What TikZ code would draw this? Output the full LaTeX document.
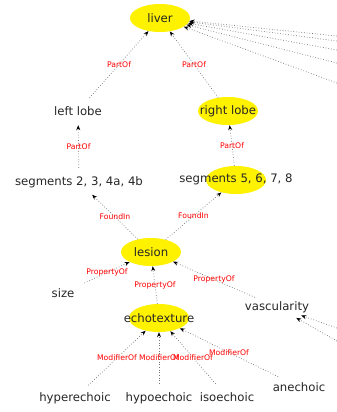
\documentclass[tikz,border=0pt]{standalone}
\usepackage{fontspec}
\setmainfont{DejaVu Sans}
\usetikzlibrary{shapes.geometric,arrows.meta}
\begin{document}
\begin{tikzpicture}[x=1pt,y=-1pt,
 shp/.style={ellipse,minimum width=60pt,minimum height=28pt,inner sep=0pt,draw=none},
 hi/.style={shp,fill=yellow},
 txt/.style={font=\fontsize{11.7}{12}\selectfont,text=black!85,inner sep=0pt},
 edge/.style={draw=black!55,dotted,line width=0.7pt,-{Stealth[length=5pt,width=4pt,black]}},
 lbl/.style={font=\fontsize{7.7}{8}\selectfont,text=red,inner sep=0pt}]
\useasboundingbox (0,0) rectangle (337,412);
\clip (0,0) rectangle (337,412);
% shapes
\node[hi]  (liver)  at (160,18)  {};
\node[shp] (ll)     at (78,111)  {};
\node[hi]  (rl)     at (228,111) {};
\node[shp] (s2)     at (79,182)  {};
\node[hi]  (s5)     at (236,180) {};
\node[hi]  (lesion) at (151,252) {};
\node[shp] (size)   at (63,293)  {};
\node[hi]  (echo)   at (159,318) {};
\node[shp] (vasc)   at (277,307) {};
\node[shp] (hyper)  at (75,398)  {};
\node[shp] (hypo)   at (159,398) {};
\node[shp] (iso)    at (227,397) {};
\node[shp] (an)     at (299,387) {};
% texts
\node[txt] (tliver) at (liver) {liver};
\node[txt] (tll) at (ll) {left lobe};
\node[txt] (trl) at (rl) {right lobe};
\node[txt] (ts2) at (s2) {segments 2, 3, 4a, 4b};
\node[txt] (ts5) at ([yshift=1pt]s5) {segments 5, 6, 7, 8};
\node[txt] (tlesion) at (lesion) {lesion};
\node[txt] (tsize) at (size) {size};
\node[txt] (techo) at (echo) {echotexture};
\node[txt] (tvasc) at (vasc) {vascularity};
\node[txt] (thyper) at (hyper) {hyperechoic};
\node[txt] (thypo) at (hypo) {hypoechoic};
\node[txt] (tiso) at (iso) {isoechoic};
\node[txt] (tan) at (an) {anechoic};
% outside edges
\coordinate (r1) at (337,36);
\coordinate (r2) at (337,41);
\coordinate (r3) at (337,50);
\coordinate (r4) at (337,63);
\coordinate (r5) at (337,83);
\coordinate (v1) at (337,328);
\coordinate (v2) at (337,341);
\foreach \c in {r1,r2,r3,r4,r5} \draw[edge] (\c) -- (liver);
\foreach \c in {v1,v2} \draw[edge] (\c) -- (vasc);
% edges
\draw[edge] (ll) -- node[lbl]{PartOf} (liver);
\draw[edge] (rl) -- node[lbl]{PartOf} (liver);
\draw[edge] (s2) -- node[lbl]{PartOf} (ll);
\draw[edge] (s5) -- node[lbl]{PartOf} (rl);
\draw[edge] (lesion) -- node[lbl]{FoundIn} (s2);
\draw[edge] (lesion) -- node[lbl]{FoundIn} (s5);
\draw[edge] (size) -- node[lbl]{PropertyOf} (lesion);
\draw[edge] (echo) -- node[lbl]{PropertyOf} (lesion);
\draw[edge] (vasc) -- node[lbl]{PropertyOf} (lesion);
\draw[edge] (hyper) -- node[lbl]{ModifierOf} (echo);
\draw[edge] (hypo) -- node[lbl]{ModifierOf} (echo);
\draw[edge] (iso) -- node[lbl]{ModifierOf} (echo);
\draw[edge] (an) -- node[lbl]{ModifierOf} (echo);
\end{tikzpicture}
\end{document}
